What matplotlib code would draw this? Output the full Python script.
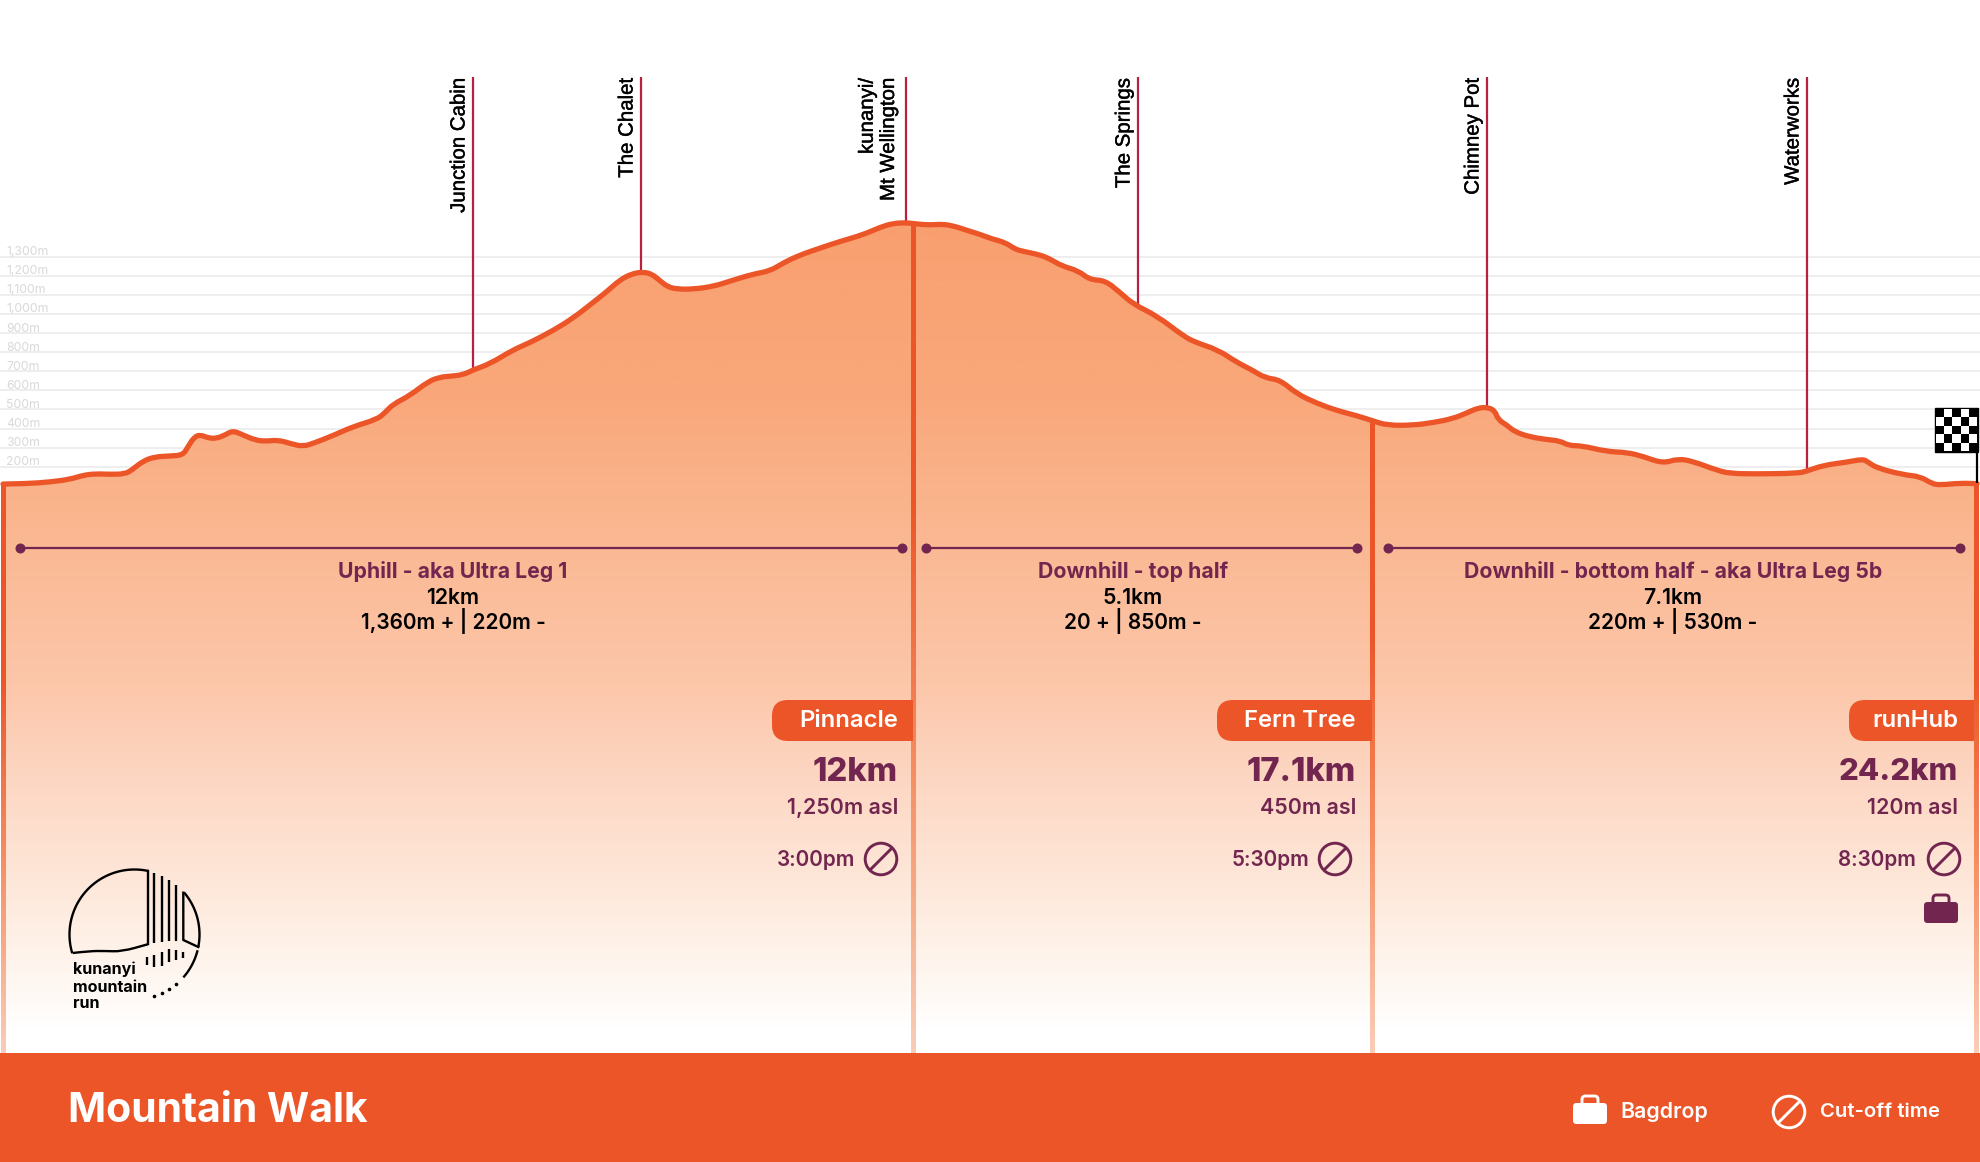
import matplotlib
matplotlib.use('Agg')
import matplotlib.pyplot as plt
import matplotlib.patheffects as pe
import numpy as np
from matplotlib.colors import LinearSegmentedColormap
from matplotlib.patches import Circle, FancyBboxPatch, PathPatch, Rectangle
from matplotlib.path import Path

plt.rcParams['font.family'] = ['Inter', 'DejaVu Sans']

# elevation profile: horizontal chart position and metres asl
profile_x = [3, 27, 50, 70, 83, 95, 110, 125, 132, 143, 155, 170, 183, 188, 194, 200, 209, 217, 225, 233,
             243, 255, 265, 278, 290, 303, 315, 333, 353, 377, 385, 393, 410, 428, 440, 450, 463, 473, 490,
             513, 530, 553, 573, 593, 607, 620, 632, 643, 652, 660, 668, 678, 693, 713, 730, 753, 770, 783,
             800, 820, 840, 863, 880, 893, 907, 917, 930, 943, 955, 967, 980, 992, 1005, 1015, 1023, 1040,
             1050, 1062, 1078, 1090, 1105, 1120, 1133, 1157, 1183, 1195, 1218, 1237, 1252, 1265, 1280, 1297,
             1317, 1337, 1357, 1373, 1387, 1413, 1433, 1453, 1467, 1478, 1488, 1495, 1498, 1507, 1515, 1530,
             1547, 1560, 1569, 1582, 1607, 1627, 1643, 1663, 1678, 1693, 1717, 1730, 1753, 1797, 1807, 1823,
             1847, 1863, 1868, 1877, 1903, 1920, 1932, 1940, 1960, 1977]
profile_m = [109, 111, 120, 134, 155, 163, 160, 162, 183, 230, 252, 256, 261, 305, 354, 368, 349, 349, 366, 389,
             366, 340, 333, 340, 322, 305, 326, 363, 410, 448, 483, 527, 573, 646, 669, 674, 681, 707, 739,
             812, 850, 913, 978, 1060, 1118, 1179, 1211, 1220, 1209, 1174, 1141, 1130, 1130, 1144, 1172, 1209, 1225, 1267,
             1309, 1345, 1380, 1415, 1454, 1475, 1478, 1471, 1466, 1471, 1459, 1438, 1417, 1393, 1375, 1340, 1328, 1310,
             1288, 1251, 1227, 1179, 1176, 1113, 1052, 990, 886, 852, 812, 746, 707, 665, 655, 581,
             532, 494, 467, 440, 417, 417, 431, 452, 482, 508, 511, 492, 447, 417, 382, 356,
             342, 335, 310, 310, 279, 275, 254, 217, 242, 228, 181, 165, 162, 165, 177, 207,
             224, 240, 224, 193, 158, 149, 111, 104, 114, 111]

grid_levels = list(range(200, 1400, 100))
grid_labels = ['200m', '300m', '400m', '500m', '600m', '700m', '800m', '900m',
               '1,000m', '1,100m', '1,200m', '1,300m']

# landmarks along the course
landmark_names = ['Junction Cabin', 'The Chalet', 'kunanyi/\nMt Wellington', 'The Springs', 'Chimney Pot', 'Waterworks']
landmark_x = [473, 641, 906, 1138, 1487, 1807]

# legs
leg_names = ['Uphill - aka Ultra Leg 1', 'Downhill - top half', 'Downhill - bottom half - aka Ultra Leg 5b']
leg_dist = ['12km', '5.1km', '7.1km']
leg_climb = ['1,360m + | 220m -', '20 + | 850m -', '220m + | 530m -']
leg_start = [20, 926, 1388]
leg_end = [902, 1357, 1960]
leg_center = [453, 1133, 1673]

# aid stations
station_names = ['Pinnacle', 'Fern Tree', 'runHub']
station_km = ['12km', '17.1km', '24.2km']
station_asl = ['1,250m asl', '450m asl', '120m asl']
station_cutoff = ['3:00pm', '5:30pm', '8:30pm']
divider_x = [3, 913, 1372, 1976]

ORANGE = '#ec5527'
PLUM = '#72264f'
CRIMSON = '#b7213f'

W, H = 1980, 1162
px_per_m = 0.1909
y_200m = 466.7


def px_to_m(y):
    return 200 + (y_200m - y) / px_per_m


def smooth_path(xs, ys):
    # quadratic curve through the midpoints, same look as the drawn line
    verts = [(xs[0], ys[0])]
    codes = [Path.MOVETO]
    for i in range(1, len(xs) - 1):
        verts += [(xs[i], ys[i]), ((xs[i] + xs[i + 1]) / 2, (ys[i] + ys[i + 1]) / 2)]
        codes += [Path.CURVE3, Path.CURVE3]
    verts.append((xs[-1], ys[-1]))
    codes.append(Path.LINETO)
    return verts, codes


fig = plt.figure(figsize=(W / 100, H / 100), dpi=100)

# elevation axes, covers the whole figure
ax = fig.add_axes([0, 0, 1, 1], zorder=1)
ax.set_xlim(0, W)
ax.set_ylim(px_to_m(H), px_to_m(0))
ax.axis('off')

for level in grid_levels:
    ax.axhline(level, color='#e9e9e9', lw=1.1, zorder=1)

for name, x in zip(landmark_names, landmark_x):
    ax.plot([x, x], [np.interp(x, profile_x, profile_m), px_to_m(77)], color=CRIMSON, lw=1.6, zorder=2,
            solid_capstyle='butt')

# gradient area under the profile
verts, codes = smooth_path(profile_x, profile_m)
top_verts = list(verts)
area_verts = top_verts + [(profile_x[-1], px_to_m(1053)), (profile_x[0], px_to_m(1053)), top_verts[0]]
area_codes = codes + [Path.LINETO, Path.LINETO, Path.CLOSEPOLY]
area_path = PathPatch(Path(area_verts, area_codes), transform=ax.transData, fc='none', ec='none')
ax.add_patch(area_path)

stop_y = [220, 400, 500, 680, 790, 900, 1000, 1030]
stop_col = ['#f99f6f', '#f9a87b', '#fab48c', '#fcc6a9', '#fdd8c5', '#feeadd', '#fffaf6', '#ffffff']
stop_pos = [(y - 220) / (1030 - 220) for y in stop_y]
area_cmap = LinearSegmentedColormap.from_list('area', list(zip(stop_pos, stop_col)))
grad = np.linspace(0, 1, 512).reshape(-1, 1)
img = ax.imshow(grad, cmap=area_cmap, aspect='auto', zorder=3, interpolation='bilinear',
                extent=(0, W, px_to_m(1030), px_to_m(220)), origin='upper')
img.set_clip_path(area_path)
ax.set_xlim(0, W)
ax.set_ylim(px_to_m(H), px_to_m(0))

ax.add_patch(PathPatch(Path(verts, codes), fc='none', ec=ORANGE, lw=3.8, zorder=6, capstyle='round', joinstyle='round'))

# overlay in figure pixels for the labels and icons
ov = fig.add_axes([0, 0, 1, 1], zorder=2)
ov.set_xlim(0, W)
ov.set_ylim(H, 0)
ov.axis('off')
ov.patch.set_alpha(0)

for level, label in zip(grid_levels, grid_labels):
    ov.text(6, y_200m - (level - 200) * px_per_m + 1.5, label, color='#d9d9d9', fontsize=8.8, va='bottom', ha='left')

# vertical dividers, fade out towards the bottom
div_cmap = LinearSegmentedColormap.from_list('div', [ORANGE, ORANGE, '#f58f63', '#f9cdb8'])
for i, x in enumerate(divider_x):
    top = np.interp(x, profile_x, profile_m)
    y_top = y_200m - (top - 200) * px_per_m
    im = ov.imshow(grad, cmap=div_cmap, aspect='auto', zorder=4, extent=(x - 2.2, x + 2.2, 1053, y_top), origin='upper')
ov.set_xlim(0, W)
ov.set_ylim(H, 0)

# leg spans and texts
for i in range(3):
    ov.plot([leg_start[i], leg_end[i]], [547.5, 547.5], color=PLUM, lw=1.6, zorder=5)
    ov.plot([leg_start[i], leg_end[i]], [547.5, 547.5], 'o', color=PLUM, ms=6.2, zorder=5)
    ov.text(leg_center[i], 571, leg_names[i], color=PLUM, fontsize=15.3, fontweight='bold', ha='center', va='center')
    ov.text(leg_center[i], 597.5, leg_dist[i], color='black', fontsize=15.3, fontweight='semibold', ha='center', va='center')
    ov.text(leg_center[i], 621.5, leg_climb[i], color='black', fontsize=15, fontweight='semibold', ha='center', va='center')


def no_entry(x, y, color, z=6):
    ov.add_patch(Circle((x, y), 15.8, fc='none', ec=color, lw=2.1, zorder=z))
    d = 15.8 * np.cos(np.pi / 4)
    ov.plot([x - d, x + d], [y + d, y - d], color=color, lw=2.1, zorder=z, solid_capstyle='butt')


def bag(x0, y0, color, z=6):
    # x0, y0 = top left of the body, 34 x 20 px
    ov.add_patch(FancyBboxPatch((x0 + 2, y0 + 2), 30, 17, boxstyle='round,pad=2,rounding_size=3.5', fc=color, ec='none', zorder=z))
    ov.add_patch(FancyBboxPatch((x0 + 9, y0 - 7), 16, 10, boxstyle='round,pad=0,rounding_size=3.5', fc='none', ec=color, lw=2.1, zorder=z))


# aid station blocks
tag_left = [772, 1217, 1849]
tag_right = [913, 1372, 1974]
text_right = [898, 1356, 1958]
cut_right = [855, 1309, 1916]
icon_x = [881, 1335, 1944]
km_size = [23.6, 23.6, 22.4]
for i in range(3):
    ov.add_patch(FancyBboxPatch((tag_left[i] + 16, 716), tag_right[i] - tag_left[i] - 32, 9,
                                boxstyle='round,pad=16,rounding_size=16', fc=ORANGE, ec='none', zorder=5))
    ov.add_patch(Rectangle((tag_left[i] + 20, 700), tag_right[i] - tag_left[i] - 20, 41, fc=ORANGE, ec='none', zorder=5))
    ov.text(text_right[i], 721, station_names[i], color='white', fontsize=17.2, fontweight='semibold', ha='right', va='center', zorder=7)
    ov.text(text_right[i], 772.5, station_km[i], color=PLUM, fontsize=km_size[i], fontweight='heavy', ha='right', va='center', zorder=7)
    ov.text(text_right[i], 808.5, station_asl[i], color=PLUM, fontsize=15.4, fontweight='semibold', ha='right', va='center', zorder=7)
    ov.text(cut_right[i], 860, station_cutoff[i], color=PLUM, fontsize=14.9, fontweight='semibold', ha='right', va='center', zorder=7)
    no_entry(icon_x[i], 859, PLUM)
bag(1924, 902, PLUM)

# landmark labels
for name, x in zip(landmark_names, landmark_x):
    off = 8 if '\n' in name else 4.5
    ov.text(x - off, 78, name, rotation=90, ha='right', va='top', fontsize=14.7, family='Liberation Sans',
            color='black', linespacing=1.15, multialignment='right',
            path_effects=[pe.withStroke(linewidth=0.3, foreground='black')])

# finish flag
checker = np.indices((5, 5)).sum(axis=0) % 2
ov.plot([1976.7, 1976.7], [450, 483], color='black', lw=1.6, zorder=5, solid_capstyle='butt')
ov.add_patch(Rectangle((1935, 408), 43, 44, fc='black', ec='black', lw=1, zorder=5))
ov.imshow(checker, cmap='gray', extent=(1936, 1977, 451, 409), interpolation='nearest', aspect='auto', zorder=6, origin='upper')
ov.set_xlim(0, W)
ov.set_ylim(H, 0)

# logo
cx, cy, r = 134.5, 934.5, 65
for a0, a1 in [(77.8, 196.8), (40.3, -11), (-14, -41.3)]:
    t = np.radians(np.linspace(a0, a1, 80))
    ov.plot(cx + r * np.cos(t), cy - r * np.sin(t), color='black', lw=1.7, zorder=6, solid_capstyle='butt')
wave_x = [72.7, 90, 105, 122, 147.7]
wave_y = [953, 951, 951, 951.5, 944.3]
wv, wc = smooth_path(wave_x, wave_y)
ov.add_patch(PathPatch(Path(wv, wc), fc='none', ec='black', lw=1.7, zorder=6))
ov.plot([147.7, 147.7], [871, 944.3], color='black', lw=1.7, zorder=6)
ov.plot([183.3, 183.3, 198.3], [892.7, 940, 947], color='black', lw=1.7, zorder=6)
stripe_x = [154.3, 161.7, 169, 176]
stripe_top = [873, 876, 880, 885]
stripe_bot = [943, 942, 941, 941]
for x, a, b in zip(stripe_x, stripe_top, stripe_bot):
    ov.plot([x, x], [a, b], color='black', lw=1.7, zorder=6, solid_capstyle='butt')
dash_x = [147, 154.3, 161.7, 169, 176, 183.3]
dash_top = [957, 955, 952, 949, 950, 952]
dash_bot = [965, 967, 966, 962, 960, 958]
for x, a, b in zip(dash_x, dash_top, dash_bot):
    ov.plot([x, x], [a, b], color='black', lw=1.7, zorder=6, solid_capstyle='butt')
ov.plot([176, 169, 161.7, 154.3], [984, 989, 993, 996], 'o', color='black', ms=1.6, zorder=6)
for y, word in zip([969, 987, 1004], ['kunanyi', 'mountain', 'run']):
    ov.text(73, y, word, color='black', fontsize=11.6, fontweight='bold', ha='left', va='center', zorder=6)

# bottom band
ov.add_patch(Rectangle((0, 1053), W, H - 1053, fc=ORANGE, ec='none', zorder=8))
ov.text(68, 1111, 'Mountain Walk', color='white', fontsize=29.4, fontweight='bold', ha='left', va='center', zorder=9)
bag(1573, 1103, 'white', z=9)
ov.text(1620, 1112, 'Bagdrop', color='white', fontsize=15.4, fontweight='semibold', ha='left', va='center', zorder=9)
no_entry(1789, 1112, 'white', z=9)
ov.text(1820, 1112, 'Cut-off time', color='white', fontsize=14.6, fontweight='semibold', ha='left', va='center', zorder=9)

fig.savefig('out.png', dpi=100)
